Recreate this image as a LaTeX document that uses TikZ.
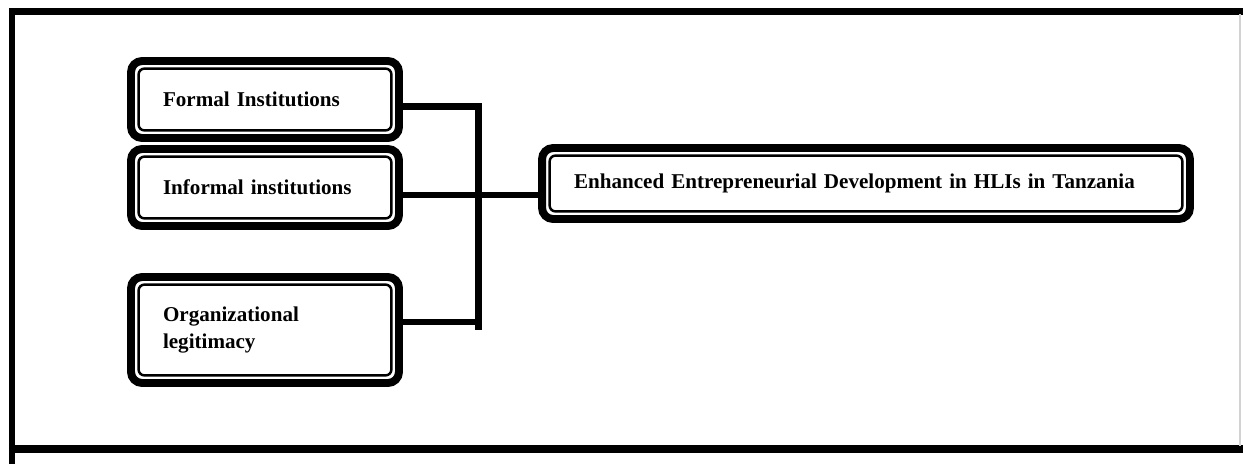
\documentclass[tikz,border=0pt]{standalone}
\usepackage{fontspec}
\setmainfont{Liberation Serif}
\usepackage{tikz}
\usetikzlibrary{calc,positioning}

\begin{document}
\begin{tikzpicture}[x=0.02cm,y=-0.02cm,
	box/.style={draw,line width=4.5pt,rounded corners=0.22cm,minimum width=5.36cm,minimum height=1.54cm,inner xsep=0.64cm,text width=4.08cm,align=left,font=\fontsize{12}{15}\selectfont\bfseries},
	link/.style={line width=3.7pt},
	frame/.style={line width=3.6pt}]
	\useasboundingbox (0,0) rectangle (1243,464);
	%outer frame drawn by hand
	\draw[frame] (1243,11.5) -- (12,11.5) -- (12,464);
	\draw[frame,line width=4.5pt] (12,449) -- (1243,449);
	\draw[gray!35,line width=0.6pt] (1240,14) -- (1240,446);
	%%boxes placed at coordinates
	\node[box] (fi) at (265,99.5){Formal Institutions};
	\node[box] (ii) at (265,187.5){Informal institutions};
	\node[box,minimum height=2.12cm] (ol) at (265,330){Organizational\\legitimacy};
	\node[box,minimum width=12.96cm,minimum height=1.42cm,text width=11.68cm] (ed) at (866,183.5){Enhanced Entrepreneurial Development in HLIs in Tanzania};
	%% thin inner border of every box drawn with a loop
	\foreach \b in {fi,ii,ol,ed}{
		\draw[line width=1.4pt,rounded corners=0.12cm] ($(\b.south west)+(0.23cm,0.23cm)$) rectangle ($(\b.north east)-(0.23cm,0.23cm)$);
		}
	%% connectors joined on the bus
	\coordinate (busend) at (478.5,330);
	\draw[link] ([yshift=-0.14cm]fi.east) -| (busend);
	\draw[link] ([yshift=-0.15cm]ii.east) -- ([yshift=-0.15cm]ii.east -| ed.west);
	\draw[link] ([yshift=0.16cm]ol.east) -- ([yshift=0.16cm]ol.east -| busend);
\end{tikzpicture}
\end{document}
